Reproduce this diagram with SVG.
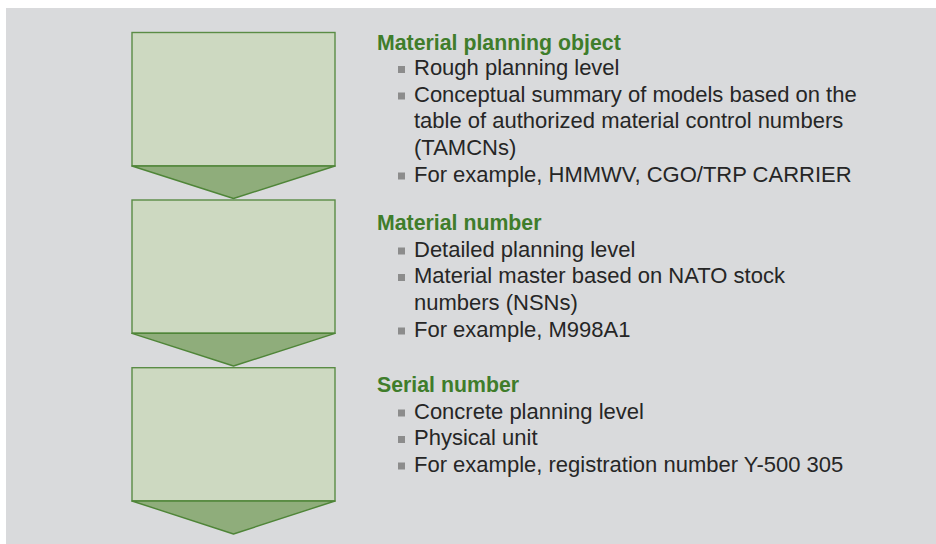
<svg xmlns="http://www.w3.org/2000/svg" width="936" height="544" viewBox="0 0 936 544">
<style>
.box{fill:#cdd9c1;stroke:#5a8c45;stroke-width:1.4}
.tri{fill:#8fad7b;stroke:#4f8538;stroke-width:1.4;stroke-linejoin:round}
.title{font-family:"Liberation Sans",Arial,sans-serif;font-weight:bold;font-size:21.3px;fill:#3f7d2b}
.item{font-family:"Liberation Sans",Arial,sans-serif;font-size:22px;fill:#262626}
.bul{fill:#8c8c8c}
</style>
<rect x="0" y="0" width="936" height="544" fill="#ffffff"/>
<rect x="6" y="8" width="930" height="536" fill="#d9dadc"/>
<g id="node-material-planning-object">
<rect class="box" x="132" y="32.5" width="203" height="133.5"/>
<polygon class="tri" points="132,166 335,166 233.5,198.5"/>
<text class="title" x="377" y="49.5">Material planning object</text>
<rect class="bul" x="398" y="66" width="7" height="7"/>
<text class="item" x="414" y="75">Rough planning level</text>
<rect class="bul" x="398" y="92.5" width="7" height="7"/>
<text class="item" x="414" y="101.6">Conceptual summary of models based on the</text>
<text class="item" x="414" y="128.3">table of authorized material control numbers</text>
<text class="item" x="414" y="155">(TAMCNs)</text>
<rect class="bul" x="398" y="172.5" width="7" height="7"/>
<text class="item" x="414" y="181.7">For example, HMMWV, CGO/TRP CARRIER</text>
</g>
<g id="node-material-number">
<rect class="box" x="132" y="200" width="203" height="133.3"/>
<polygon class="tri" points="132,333.3 335,333.3 233.5,366"/>
<text class="title" x="377" y="230">Material number</text>
<rect class="bul" x="398" y="247.5" width="7" height="7"/>
<text class="item" x="414" y="256.7">Detailed planning level</text>
<rect class="bul" x="398" y="274" width="7" height="7"/>
<text class="item" x="414" y="283.3">Material master based on NATO stock</text>
<text class="item" x="414" y="310">numbers (NSNs)</text>
<rect class="bul" x="398" y="327.5" width="7" height="7"/>
<text class="item" x="414" y="336.7">For example, M998A1</text>
</g>
<g id="node-serial-number">
<rect class="box" x="132" y="367.7" width="203" height="133.3"/>
<polygon class="tri" points="132,501 335,501 233.5,534"/>
<text class="title" x="377" y="391.8">Serial number</text>
<rect class="bul" x="398" y="409.5" width="7" height="7"/>
<text class="item" x="414" y="418.6">Concrete planning level</text>
<rect class="bul" x="398" y="436" width="7" height="7"/>
<text class="item" x="414" y="445.2">Physical unit</text>
<rect class="bul" x="398" y="462.5" width="7" height="7"/>
<text class="item" x="414" y="471.8">For example, registration number Y-500 305</text>
</g>
<g id="connectors"></g>
</svg>
